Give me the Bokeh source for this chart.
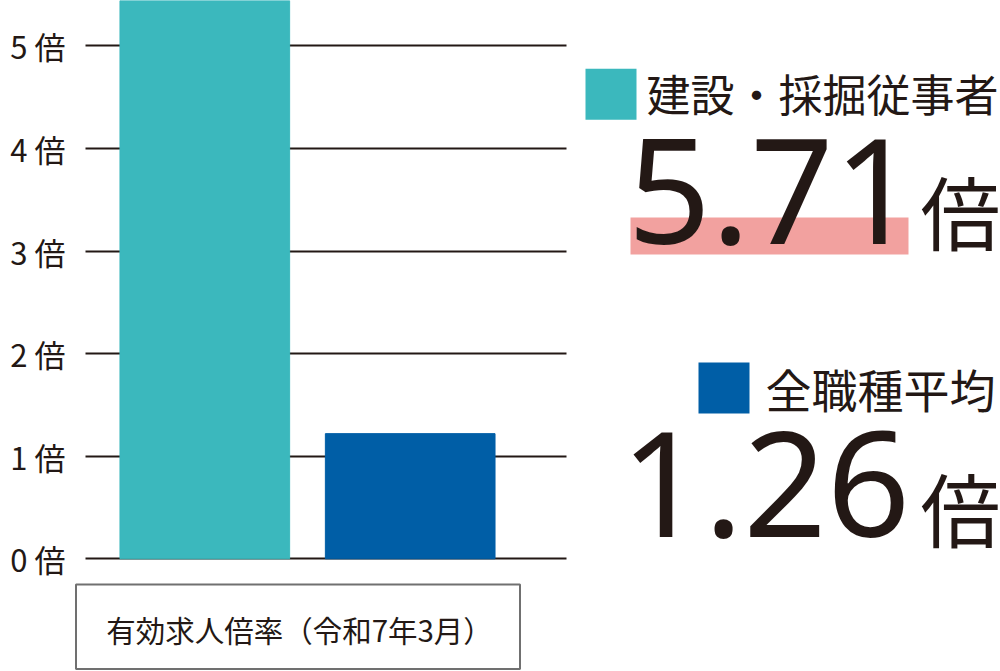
from bokeh.plotting import figure
from bokeh.models import Range1d, FixedTicker, ColumnDataSource
from bokeh.core.properties import value
from bokeh.embed import file_html
from bokeh.resources import INLINE

# ---------------- data ----------------
categories = ["建設・採掘従事者", "全職種平均"]
ratios = [5.71, 1.22]            # bar heights as drawn
ratio_labels = ["5.71", "1.26"]
unit_label = "倍"
bar_colors = ["#3BB8BD", "#005EA6"]
y_ticks = [0, 1, 2, 3, 4, 5]
y_tick_labels = ["0 倍", "1 倍", "2 倍", "3 倍", "4 倍", "5 倍"]
x_title = "有効求人倍率（令和7年3月）"

# ---------------- layout ----------------
W, H = 1000, 671
FL = 73                 # frame left (canvas px)
PXU_X = 205.4           # px per category step
PXU_Y = 102.6           # px per unit
Y0 = 558.3              # canvas y of value 0
X1 = 204.3              # canvas x of first category centre
TXT = "#231815"
CJK = "Noto Sans CJK JP"
DIGIT_SHIFT = 54        # alphabetic-baseline correction for 146px digits

x_start = 1 - (X1 - FL) / PXU_X
x_end = x_start + (W - FL) / PXU_X
y_end = Y0 / PXU_Y
y_start = (Y0 - H) / PXU_Y


def dx(px):
    return x_start + (px - FL) / PXU_X


def dy(py):
    return (Y0 - py) / PXU_Y


p = figure(width=W, height=H, x_range=Range1d(x_start, x_end),
           y_range=Range1d(y_start, y_end), output_backend="svg",
           toolbar_location=None, tools="", x_axis_location=None,
           y_axis_location="left", min_border=0, min_border_left=FL,
           outline_line_color=None, background_fill_color="white",
           border_fill_color="white")

p.xgrid.visible = False
g = p.ygrid[0]
g.ticker = FixedTicker(ticks=y_ticks)
g.grid_line_color = TXT
g.grid_line_width = 2
g.grid_line_alpha = 1.0
use_segments = False
try:
    g.cross_bounds = (dx(85), dx(566))
except Exception:
    use_segments = True
if use_segments:
    g.visible = False
    p.segment(x0=[dx(85)] * len(y_ticks), x1=[dx(566)] * len(y_ticks),
              y0=y_ticks, y1=y_ticks, line_color=TXT, line_width=2)

ax = p.yaxis[0]
ax.ticker = FixedTicker(ticks=y_ticks)
ax.major_label_overrides = dict(zip(y_ticks, y_tick_labels))
ax.axis_line_color = None
ax.major_tick_line_color = None
ax.minor_tick_line_color = None
ax.major_tick_out = 0
ax.major_tick_in = 0
ax.major_label_standoff = 8
ax.major_label_text_font = CJK
ax.major_label_text_font_size = "31px"
ax.major_label_text_color = TXT

# bars
xs = list(range(1, len(categories) + 1))
src = ColumnDataSource(dict(x=xs, top=ratios, color=bar_colors))
p.vbar(x="x", top="top", bottom=0, width=0.826, color="color", source=src)

# pink highlight under 5.71
p.quad(left=[dx(630)], right=[dx(908)], top=[dy(217)], bottom=[dy(254)],
       color="#F2A19F", line_color=None)

# legend squares
sq_left = [585, 698]
sq_top = [68.3, 362]
SQ = 51
p.quad(left=[dx(v) for v in sq_left], right=[dx(v + SQ) for v in sq_left],
       top=[dy(v) for v in sq_top], bottom=[dy(v + SQ) for v in sq_top],
       color=bar_colors, line_color=None)

# legend texts
p.text(x=[dx(646)], y=[dy(92)], text=[categories[0]], text_font=value(CJK),
       text_font_size="44px", text_baseline="middle", text_color=TXT)
p.text(x=[dx(765)], y=[dy(387)], text=[categories[1]], text_font=value(CJK),
       text_font_size="46px", text_baseline="middle", text_color=TXT)

# big values
p.text(x=[dx(627), dx(620)], y=[dy(245 - DIGIT_SHIFT), dy(538 - DIGIT_SHIFT)],
       text=ratio_labels, text_font=value("Noto Sans"), text_font_size="146px",
       text_baseline="alphabetic", text_color=TXT)
p.text(x=[dx(1000), dx(1000)], y=[dy(208.5), dy(505)],
       text=[unit_label, unit_label], text_font=value(CJK),
       text_font_size="80px", text_align="right",
       text_baseline="middle", text_color=TXT)

# category box below
p.quad(left=[dx(75.5)], right=[dx(519.5)], top=[dy(584)], bottom=[dy(668.5)],
       fill_color=None, line_color="#707070", line_width=2)
p.text(x=[dx(299)], y=[dy(628)], text=[x_title], text_font=value(CJK),
       text_font_size="29.5px", text_align="center", text_baseline="middle",
       text_color=TXT)

open("out.html", "w").write(file_html(p, INLINE))
